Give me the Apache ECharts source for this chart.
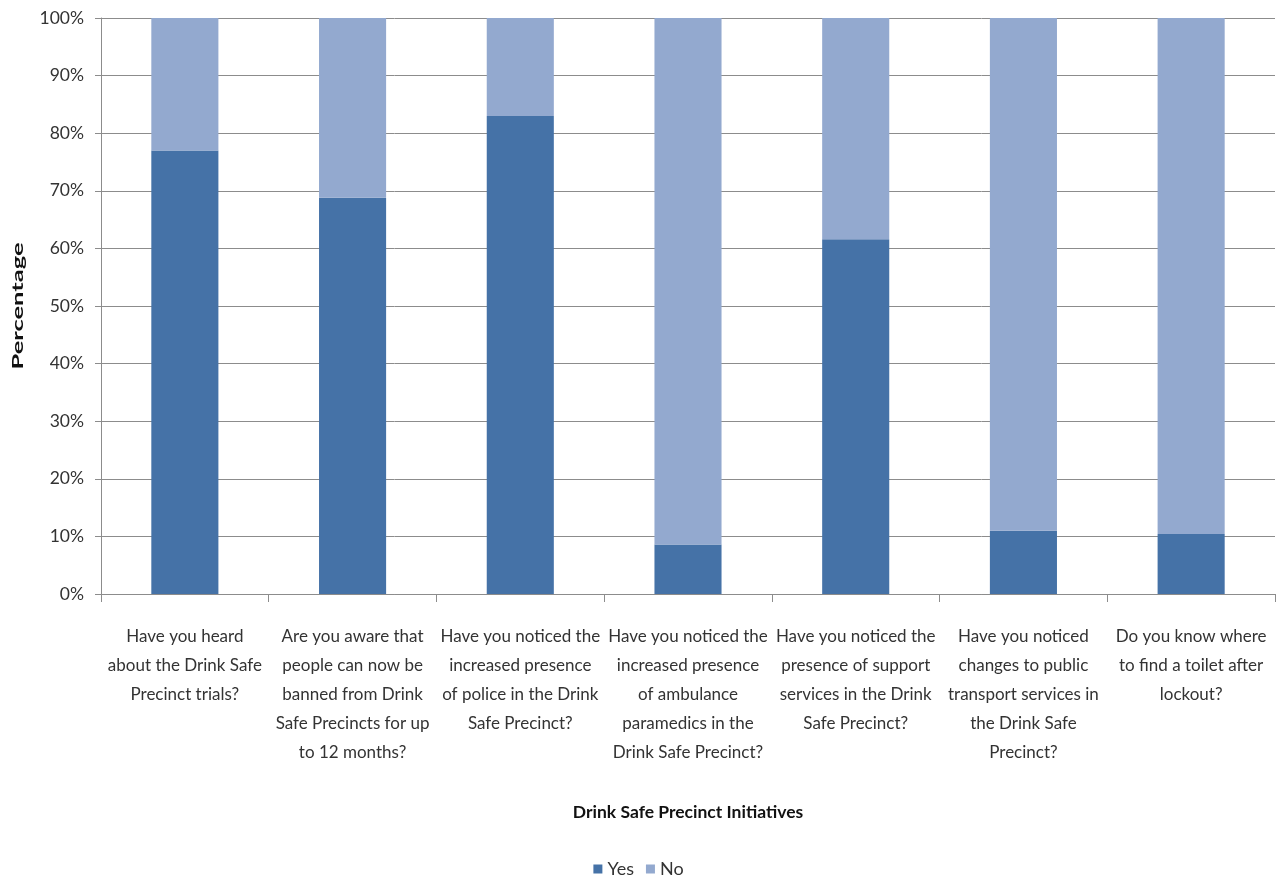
<!DOCTYPE html>
<html>
<head>
<meta charset="utf-8">
<script src="https://cdn.jsdelivr.net/npm/echarts@6/dist/echarts.min.js"></script>
<style>
  html, body { margin: 0; padding: 0; background: #fff; overflow: hidden; }
  #chart { width: 1277px; height: 879px; }
</style>
</head>
<body>
<div id="chart"></div>
<script>
// Survey questions (line breaks as printed under each bar)
const categories = [
  'Have you heard\nabout the Drink Safe\nPrecinct trials?',
  'Are you aware that\npeople can now be\nbanned from Drink\nSafe Precincts for up\nto 12 months?',
  'Have you noticed the\nincreased presence\nof police in the Drink\nSafe Precinct?',
  'Have you noticed the\nincreased presence\nof ambulance\nparamedics in the\nDrink Safe Precinct?',
  'Have you noticed the\npresence of support\nservices in the Drink\nSafe Precinct?',
  'Have you noticed\nchanges to public\ntransport services in\nthe Drink Safe\nPrecinct?',
  'Do you know where\nto find a toilet after\nlockout?'
];

// Share of respondents (%)
const yesValues = [77, 68.8, 83, 8.6, 61.6, 11, 10.4];
const noValues = yesValues.map(v => +(100 - v).toFixed(1));

const yTickLabels = ['0%', '10%', '20%', '30%', '40%', '50%', '60%', '70%', '80%', '90%', '100%'];

const FONT = 'Lato, sans-serif';
const axisGray = '#8c8c8c';

const chart = echarts.init(document.getElementById('chart'));
chart.setOption({
  animation: false,
  textStyle: { fontFamily: FONT },
  grid: { left: 101, width: 1174, top: 18, bottom: 285, containLabel: false },
  legend: {
    data: ['Yes', 'No'],
    top: 855,
    left: 'center',
    itemWidth: 9,
    itemHeight: 9,
    itemGap: 12,
    icon: 'rect',
    textStyle: { fontFamily: FONT, fontSize: 18, color: '#333' }
  },
  // Rotated y-axis title, stretched along its length
  graphic: [{
    type: 'text',
    x: 18,
    y: 306,
    rotation: Math.PI / 2,
    scaleX: 1.7,
    style: {
      text: 'Percentage',
      font: 'bold 15px ' + FONT,
      fill: '#111',
      textAlign: 'center',
      textVerticalAlign: 'middle'
    }
  }],
  xAxis: {
    type: 'category',
    data: categories,
    name: 'Drink Safe Precinct Initiatives',
    nameLocation: 'middle',
    nameGap: 209,
    nameTextStyle: { fontFamily: FONT, fontSize: 17.5, fontWeight: 'bold', color: '#111' },
    axisLine: { lineStyle: { color: axisGray, width: 1 } },
    axisTick: { show: true, alignWithLabel: false, length: 8, lineStyle: { color: axisGray } },
    axisLabel: {
      interval: 0,
      margin: 28,
      fontSize: 17,
      lineHeight: 29,
      color: '#333',
      fontFamily: FONT
    }
  },
  yAxis: {
    type: 'value',
    min: 0,
    max: 100,
    interval: 10,
    axisLine: { show: true, lineStyle: { color: axisGray, width: 1 } },
    axisTick: { show: true, length: 6, lineStyle: { color: axisGray } },
    splitLine: { lineStyle: { color: axisGray, width: 1 } },
    axisLabel: {
      margin: 17,
      fontSize: 17.5,
      color: '#333',
      fontFamily: FONT,
      formatter: v => yTickLabels[Math.round(v / 10)]
    }
  },
  series: [
    {
      name: 'Yes',
      type: 'bar',
      stack: 'total',
      data: yesValues,
      barCategoryGap: '60%',
      itemStyle: { color: '#4572A7' }
    },
    {
      name: 'No',
      type: 'bar',
      stack: 'total',
      data: noValues,
      barCategoryGap: '60%',
      itemStyle: { color: '#93A9CF' }
    }
  ]
});
</script>
</body>
</html>
